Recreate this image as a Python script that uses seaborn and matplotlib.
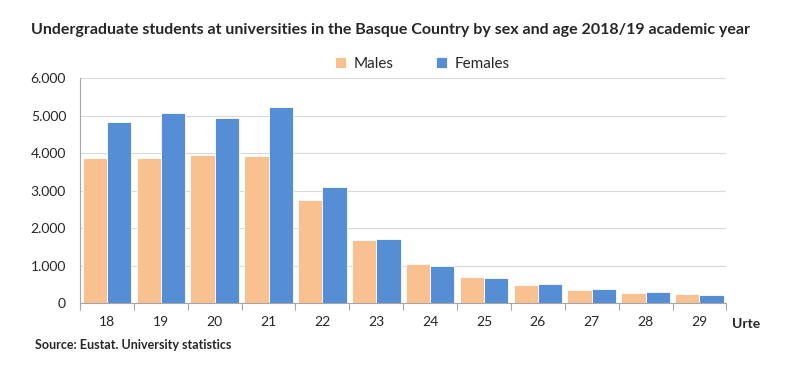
import pandas as pd
import seaborn as sns
import matplotlib.pyplot as plt
import matplotlib.ticker as ticker

ages = ['18', '19', '20', '21', '22', '23', '24', '25', '26', '27', '28', '29']
males = [3867, 3876, 3956, 3920, 2747, 1698, 1049, 693, 489, 347, 284, 240]
females = [4827, 5076, 4933, 5236, 3093, 1724, 1004, 684, 507, 382, 293, 231]

data = pd.DataFrame({
    'age': ages * 2,
    'value': males + females,
    'sex': ['Males'] * len(ages) + ['Females'] * len(ages),
})

sns.set_style("white")
plt.rcParams['font.family'] = ['Lato', 'DejaVu Sans']

fig = plt.figure(figsize=(8, 3.8), dpi=100)
ax = fig.add_axes([0.1, 0.202, 0.808, 0.592])

sns.barplot(data=data, x='age', y='value', hue='sex', ax=ax,
            palette={'Males': '#F9C18F', 'Females': '#568ED6'}, saturation=1,
            width=0.9, gap=0, edgecolor='white', linewidth=0.6)

ax.set_ylim(0, 6000)
ax.set_xlim(-0.5, len(ages) - 0.5)
ax.yaxis.set_major_locator(ticker.MultipleLocator(1000))
ax.yaxis.set_major_formatter(ticker.FuncFormatter(lambda v, p: f'{int(v):,}'.replace(',', '.')))
ax.grid(axis='y', color='#D9D9D9', linewidth=0.8)
ax.set_axisbelow(True)

ax.xaxis.set_minor_locator(ticker.FixedLocator([i - 0.5 for i in range(len(ages) + 1)]))
ax.tick_params(axis='x', which='major', length=0, labelsize=10, pad=9)
ax.tick_params(axis='x', which='minor', length=5, color='#A6A6A6', width=0.8, bottom=True)
ax.tick_params(axis='y', length=0, labelsize=10, pad=10)

for s in ['top', 'right']:
    ax.spines[s].set_visible(False)
for s in ['left', 'bottom']:
    ax.spines[s].set_color('#A6A6A6')
    ax.spines[s].set_linewidth(0.8)

ax.set_xlabel('')
ax.set_ylabel('')

leg = ax.legend(loc='upper center', bbox_to_anchor=(0.53, 1.155), ncol=2, frameon=False,
                fontsize=11, handlelength=0.7, handleheight=0.7, columnspacing=2.8,
                handletextpad=0.5)

fig.text(0.488, 0.92, 'Undergraduate students at universities in the Basque Country by sex and age 2018/19 academic year',
         ha='center', va='center', fontsize=11.5, fontweight='bold')
fig.text(0.915, 0.148, 'Urte', ha='left', va='center', fontsize=10, fontweight='bold')
fig.text(0.044, 0.093, 'Source: Eustat. University statistics', ha='left', va='center',
         fontsize=9, fontweight='bold')

fig.savefig('out.png', dpi=100)
